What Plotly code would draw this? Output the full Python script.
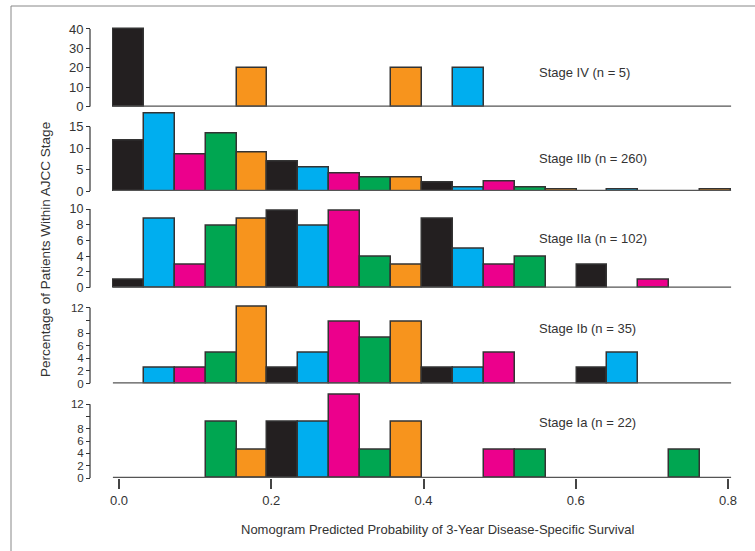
import numpy as np
import plotly.graph_objects as go

# Histogram bins of the nomogram-predicted 3-year disease-specific survival
BIN_START = -0.008
BIN_WIDTH = 0.0406
N_BINS = 20

# Percentage of patients per bin, by AJCC stage (0 = empty bin)
stage_iv = [40, 0, 0, 0, 20, 0, 0, 0, 0, 20, 0, 20, 0, 0, 0, 0, 0, 0, 0, 0]
stage_iib = [11.9, 18.1, 8.5, 13.5, 8.9, 6.9, 5.4, 4.2, 3.1, 3.1,
             1.9, 0.8, 2.3, 0.8, 0.4, 0, 0.4, 0, 0, 0.4]
stage_iia = [0.98, 8.8, 2.9, 7.8, 8.8, 9.8, 7.8, 9.8, 3.9, 2.9,
             8.8, 4.9, 2.9, 3.9, 0, 2.9, 0, 0.98, 0, 0]
stage_ib = [0, 2.44, 2.44, 4.88, 12.2, 2.44, 4.88, 9.76, 7.32, 9.76,
            2.44, 2.44, 4.88, 0, 0, 2.44, 4.88, 0, 0, 0]
stage_ia = [0, 0, 0, 9.09, 4.55, 9.09, 9.09, 13.6, 4.55, 9.09,
            0, 0, 4.55, 4.55, 0, 0, 0, 0, 4.55, 0]

panel_labels = ["Stage IV (n = 5)", "Stage IIb (n = 260)", "Stage IIa (n = 102)",
                "Stage Ib (n = 35)", "Stage Ia (n = 22)"]
panel_values = [stage_iv, stage_iib, stage_iia, stage_ib, stage_ia]

# y tick values / labels per panel
panel_tickvals = [[0, 10, 20, 30, 40], [0, 5, 10, 15], [0, 2, 4, 6, 8, 10],
                  [0, 2, 4, 6, 8, 10, 12], [0, 2, 4, 6, 8, 10, 12]]
panel_ticktext = [["0", "10", "20", "30", "40"], ["0", "5", "10", "15"],
                  ["0", "2", "4", "6", "8", "10"],
                  ["0", "2", "4", "6", "8", "", "12"],
                  ["0", "2", "4", "6", "8", "", "12"]]
panel_range_top = [41.5, 18.8, 10.4, 12.8, 14.2]
panel_tick_size = [13, 13, 12.5, 11.5, 11.5]

x_tickvals = [0.0, 0.2, 0.4, 0.6, 0.8]
x_ticktext = ["0.0", "0.2", "0.4", "0.6", "0.8"]

bin_colors = ["#231f20", "#00aeef", "#ec008c", "#00a651", "#f7941d"]

# ---- geometry (pixels in a 755 x 551 page) ----
W, H = 755, 551
M_L, M_R, M_T, M_B = 90, 23, 22, 73
PLOT_H = H - M_T - M_B
PLOT_W = W - M_L - M_R
X_LO, X_HI = -0.0092, 0.8052
X_DOM0 = 22 / PLOT_W

# pixel row of zero and pixels per unit for each panel
panel_zero_px = [106.7, 191.0, 287.7, 383.5, 478.0]
panel_px_per_unit = [1.9425, 4.287, 7.87, 6.31, 6.14]

FONT = "Liberation Sans, Arial, Helvetica, sans-serif"
TEXT_COLOR = "#333333"


def py(p):
    """page pixel row -> paper y"""
    return (H - M_B - p) / PLOT_H


def px(p):
    """page pixel column -> paper x"""
    return (p - M_L) / PLOT_W


centers = BIN_START + BIN_WIDTH * (np.arange(N_BINS) + 0.5)
colors = [bin_colors[i % 5] for i in range(N_BINS)]

fig = go.Figure()
layout = dict(
    width=W, height=H,
    margin=dict(l=M_L, r=M_R, t=M_T, b=M_B),
    paper_bgcolor="white", plot_bgcolor="white",
    showlegend=False,
    font=dict(family=FONT, color=TEXT_COLOR, size=13),
    bargap=0,
)
shapes = []
annotations = []

for k, vals in enumerate(panel_values):
    idx = "" if k == 0 else str(k + 1)
    yname = "y" + idx
    y0 = panel_zero_px[k]
    top_px = y0 - panel_range_top[k] * panel_px_per_unit[k]
    layout["yaxis" + idx] = dict(
        domain=[py(y0), py(top_px)],
        range=[0, panel_range_top[k]],
        anchor="free", position=0,
        tickvals=panel_tickvals[k], ticktext=panel_ticktext[k],
        ticks="outside", ticklen=4, tickwidth=1.2, tickcolor=TEXT_COLOR,
        showgrid=False, zeroline=False, showline=False,
        tickfont=dict(size=panel_tick_size[k], color=TEXT_COLOR),
        fixedrange=True,
    )
    yv = [v if v > 0 else None for v in vals]
    fig.add_trace(go.Bar(
        x=centers, y=yv, width=BIN_WIDTH,
        marker=dict(color=colors, line=dict(color=TEXT_COLOR, width=1.5)),
        xaxis="x", yaxis=yname, hoverinfo="x+y",
    ))
    # panel baseline
    shapes.append(dict(type="line", xref="x", yref=yname,
                       x0=BIN_START, x1=BIN_START + BIN_WIDTH * N_BINS, y0=0, y1=0,
                       line=dict(color="#555555", width=2.5), layer="above"))
    # vertical axis line from 0 to the top tick
    shapes.append(dict(type="line", xref="paper", yref=yname,
                       x0=0, x1=0, y0=0, y1=panel_tickvals[k][-1],
                       line=dict(color=TEXT_COLOR, width=1.2)))
    # panel label
    label_y = [73, 158, 238, 328, 422][k]
    annotations.append(dict(text=panel_labels[k], xref="x", yref="paper",
                            x=0.549, y=py(label_y), xanchor="left", yanchor="middle",
                            showarrow=False, font=dict(size=13, color=TEXT_COLOR)))

layout["xaxis"] = dict(
    domain=[X_DOM0, 1], range=[X_LO, X_HI],
    anchor="free", position=0,
    tickvals=x_tickvals, ticktext=x_ticktext,
    ticks="outside", ticklen=10, tickwidth=1.5, tickcolor="#444444",
    showgrid=False, zeroline=False, showline=False,
    tickfont=dict(size=13, color=TEXT_COLOR),
    fixedrange=True,
)

# axis titles
annotations.append(dict(text="Nomogram Predicted Probability of 3-Year Disease-Specific Survival",
                        xref="paper", yref="paper", x=px(438), y=py(529),
                        xanchor="center", yanchor="middle", showarrow=False,
                        font=dict(size=13, color=TEXT_COLOR)))
annotations.append(dict(text="Percentage of Patients Within AJCC Stage",
                        xref="paper", yref="paper", x=px(45), y=py(250),
                        xanchor="center", yanchor="middle", textangle=-90,
                        showarrow=False, font=dict(size=13.5, color=TEXT_COLOR)))

# outer frame
shapes.append(dict(type="rect", xref="paper", yref="paper",
                   x0=px(11), x1=px(765), y0=py(561), y1=py(6),
                   line=dict(color="#888888", width=1), layer="below"))

layout["shapes"] = shapes
layout["annotations"] = annotations
fig.update_layout(**layout)

fig.write_html("out.html")
